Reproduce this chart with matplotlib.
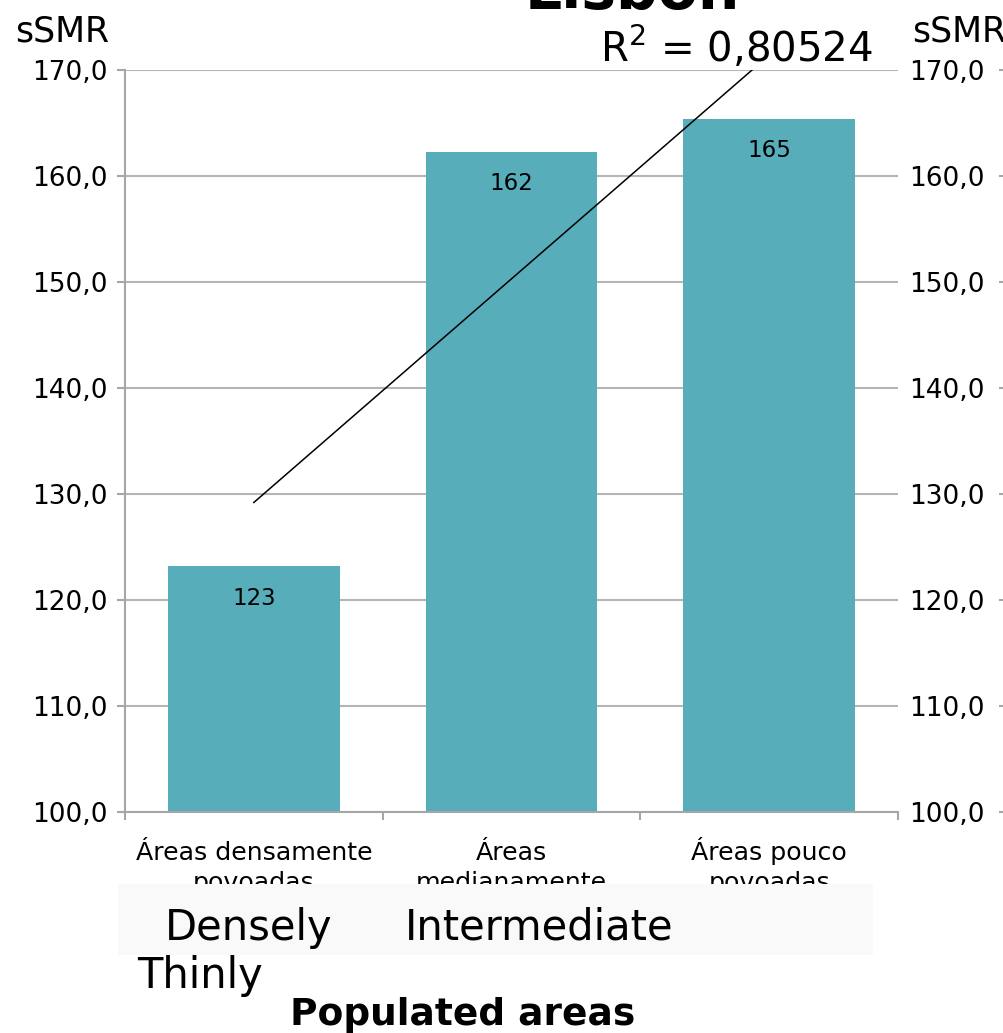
import numpy as np
import matplotlib
matplotlib.use("Agg")
import matplotlib.pyplot as plt
from matplotlib.patches import Rectangle

# ---- data ----
categories = ["Áreas densamente\npovoadas", "Áreas\nmedianamente\npovoadas", "Áreas pouco\npovoadas"]
smr_values = [123.2, 162.3, 165.4]
y_ticks = [100, 110, 120, 130, 140, 150, 160, 170]
y_tick_labels = ["100,0", "110,0", "120,0", "130,0", "140,0", "150,0", "160,0", "170,0"]
title_text = "Lisbon"
axis_label = "sSMR"
r2_label = "R$^2$ = 0,80524"
english_labels = ["Densely", "Intermediate", "Thinly"]
xlabel_text = "Populated areas"

W, H = 1004, 1033
fig = plt.figure(figsize=(W / 100, H / 100), dpi=100)
plt.rcParams['font.family'] = ['DejaVu Sans']

def fx(px):
    return px / W

def fy(py):
    return 1 - py / H

PT = 0.72  # points per pixel at 100 dpi
gray = "#a6a6a6"
bar_color = "#58adbb"

left, right, top, bottom = 125, 898, 70, 812
ax = fig.add_axes([fx(left), fy(bottom), fx(right - left), (bottom - top) / H])

x = np.arange(1, len(smr_values) + 1)
bars = ax.bar(x, smr_values, width=0.667, color=bar_color, zorder=2)

ax.set_xlim(0.5, 3.5)
ax.set_ylim(100, 170)
ax.set_yticks(y_ticks)
ax.set_yticklabels(y_tick_labels, fontsize=19)
ax.yaxis.grid(True, color="#b5b5b5", lw=1.5, zorder=0)
ax.set_axisbelow(True)
ax.tick_params(axis="y", direction="out", length=5.8, width=1.5, color=gray, pad=6.5)

# x ticks: category boundaries
ax.set_xticks([0.5, 1.5, 2.5, 3.5])
ax.set_xticklabels([])
ax.tick_params(axis="x", which="major", direction="out", length=6, width=1.5, color=gray)

# category labels, line by line, under each bar
for xi, lab in zip(x, categories):
    for j, line in enumerate(lab.split("\n")):
        ax.annotate(line, xy=(xi, 0), xycoords=("data", "axes fraction"),
                    xytext=(0, -(48 + 30 * j) * PT), textcoords="offset points",
                    ha="center", va="baseline", fontsize=18.2, annotation_clip=False)

for s in ["top", "right"]:
    ax.spines[s].set_visible(False)
for s in ["left", "bottom"]:
    ax.spines[s].set_color(gray)
    ax.spines[s].set_linewidth(1.5)

# value labels inside bars
for xi, v in zip(x, smr_values):
    ax.annotate(f"{v:.0f}", (xi, v), xytext=(0, -23), textcoords="offset points",
                ha="center", va="center", fontsize=16.5, color="black", zorder=4)

# linear trend line
coef = np.polyfit(x, smr_values, 1)
xt = np.array([1, 3])
ax.plot(xt, np.polyval(coef, xt), color="black", lw=1.1, zorder=3)

# right axis (tick marks at the figure's right edge)
ax2 = fig.add_axes([1.0, fy(bottom), 0.001, (bottom - top) / H])
ax2.set_ylim(100, 170)
ax2.set_yticks(y_ticks)
ax2.set_yticklabels(y_tick_labels, fontsize=19)
ax2.tick_params(axis="y", direction="out", length=3.6, width=1.5, color=gray, pad=10)
ax2.set_xticks([])
for s in ax2.spines.values():
    s.set_visible(False)
ax2.patch.set_visible(False)

# texts
fig.text(fx(632), fy(9), title_text, ha="center", va="baseline", fontsize=42, fontweight="bold")
fig.text(fx(15), fy(42), axis_label, ha="left", va="baseline", fontsize=25)
fig.text(fx(912), fy(42), axis_label, ha="left", va="baseline", fontsize=25)
fig.text(fx(873), fy(62), r2_label, ha="right", va="baseline", fontsize=29)

# light box covering the lower lines of the category labels
box = Rectangle((fx(118), fy(955)), fx(873 - 118), (955 - 884) / H, transform=fig.transFigure,
                facecolor="#f9f9f9", edgecolor="none", zorder=5)
fig.patches.append(box)

fig.text(fx(165), fy(940), english_labels[0], ha="left", va="baseline", fontsize=30, zorder=6)
fig.text(fx(405), fy(940), english_labels[1], ha="left", va="baseline", fontsize=30, zorder=6)
fig.text(fx(137), fy(988), english_labels[2], ha="left", va="baseline", fontsize=30, zorder=6)
fig.text(fx(290), fy(1025), xlabel_text, ha="left", va="baseline", fontsize=27,
         fontweight="bold", zorder=6)

fig.savefig("out.png", dpi=100)
